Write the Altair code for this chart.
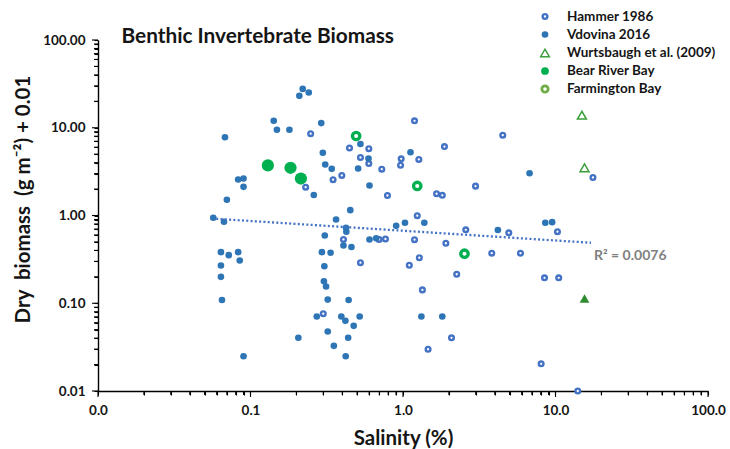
import altair as alt
import pandas as pd

# ---- data: salinity (%) vs dry biomass + 0.01 (g m-2) ----
hammer_salinity = [0.248, 0.348, 0.397, 0.230, 0.407, 0.446, 0.597, 0.526, 0.597, 1.19,
                   0.973, 0.964, 1.27, 1.87, 4.51, 0.726, 0.791, 1.66, 1.81, 2.99,
                   17.6, 1.24, 2.58, 4.94, 10.3, 0.697, 0.767, 1.19, 1.91, 3.82,
                   5.89, 0.526, 1.10, 1.28, 2.25, 8.47, 10.5, 1.34, 2.08, 1.46,
                   8.05, 14.0, 0.300]
hammer_biomass = [8.55, 2.56, 2.86, 2.10, 0.533, 5.88, 5.77, 4.58, 3.91, 12.0,
                  4.43, 3.74, 4.35, 6.11, 8.22, 3.37, 1.69, 1.77, 1.70, 2.16,
                  2.71, 0.995, 0.687, 0.635, 0.654, 0.533, 0.540, 0.530, 0.483, 0.372,
                  0.372, 0.290, 0.271, 0.330, 0.214, 0.195, 0.195, 0.142, 0.0404, 0.0299,
                  0.0204, 0.010, 0.0759]

vdovina_salinity = [0.220, 0.241, 0.209, 0.142, 0.149, 0.180, 0.291, 0.068, 0.298, 0.309,
                    0.341, 0.083, 0.090, 0.090, 0.260, 0.070, 0.057, 0.067, 0.364, 0.451,
                    0.307, 0.423, 0.425, 0.407, 0.459, 0.064, 0.072, 0.083, 0.085, 0.064,
                    0.064, 0.065, 0.294, 0.335, 0.305, 0.303, 0.313, 0.321, 0.440, 0.272,
                    0.394, 0.419, 0.520, 0.475, 0.321, 0.206, 0.352, 0.437, 0.090, 0.421,
                    0.526, 1.12, 0.594, 0.508, 0.603, 6.76, 0.902, 1.03, 1.38, 4.19,
                    8.57, 9.51, 0.603, 0.667, 1.32, 1.81]
vdovina_biomass = [27.7, 25.2, 23.1, 12.0, 9.48, 9.48, 11.3, 7.80, 5.19, 3.81,
                   3.40, 2.57, 2.64, 2.12, 1.71, 1.51, 0.942, 0.848, 0.900, 1.15,
                   0.592, 0.724, 0.652, 0.455, 0.438, 0.382, 0.353, 0.382, 0.307, 0.269,
                   0.200, 0.109, 0.382, 0.376, 0.264, 0.178, 0.155, 0.110, 0.109, 0.0706,
                   0.0706, 0.0631, 0.0706, 0.0553, 0.0476, 0.0404, 0.0327, 0.0404, 0.0249, 0.0249,
                   6.53, 5.26, 4.46, 3.43, 2.20, 3.03, 0.763, 0.826, 0.826, 0.684,
                   0.826, 0.839, 0.533, 0.551, 0.0706, 0.0706]

wurts_salinity = [14.9, 15.5]
wurts_biomass = [13.9, 3.50]
wurts_solid_salinity = [15.5]
wurts_solid_biomass = [0.113]

bear_salinity = [0.130, 0.183, 0.214]
bear_biomass = [3.72, 3.50, 2.64]

farm_salinity = [0.493, 1.24, 2.53]
farm_biomass = [8.05, 2.17, 0.367]

# power trendline through the Hammer + Vdovina points
trend_salinity = [0.0596, 17.1]
trend_biomass = [0.917, 0.489]
trend_label = "R\u00b2 = 0.0076"

legend_labels = ["Hammer 1986", "Vdovina 2016", "Wurtsbaugh et al. (2009)",
                 "Bear River Bay", "Farmington Bay"]

major_ticks = [0.01, 0.1, 1, 10, 100]
minor_ticks = sorted(round(m * k, 6) for m in major_ticks[:-1] for k in range(2, 10))
tick_values = sorted(major_ticks + minor_ticks)

# ---- styling ----
HAMMER = "#4472C4"
VDOVINA = "#2E75B6"
WURTS = "#3A9E3A"
WURTS_SOLID = "#2E8B2E"
BEAR = "#00B050"
FARM = "#00B050"
FARM_KEY = "#70AD47"
FONT = "Lato"
INK = "#151515"
NBSP = "\u00a0"

W, H = 610, 351

is_major = "abs(log(datum.value) / LN10 - round(log(datum.value) / LN10)) < 0.001"

x_axis = alt.Axis(
    values=tick_values,
    labelExpr=f"{is_major} ? format(datum.value, '.1f') : ''",
    grid=False, labelOverlap=False, labelFlush=False,
    domainColor="#000000", domainWidth=1.4,
    ticks=True, tickColor="#000000", tickWidth=1.1, tickSize=4, tickOpacity=1,
    labelFont=FONT, labelFontWeight="bold", labelFontSize=13.5, labelColor=INK,
    labelPadding=8,
    title="Salinity (%)", titleFont=FONT, titleFontSize=20.5, titleFontWeight="bold",
    titleColor=INK, titleX=W / 2, titleY=53, titleAlign="center",
    titleBaseline="alphabetic", titleAnchor="middle",
)

y_axis = alt.Axis(
    values=tick_values,
    labelExpr=f"{is_major} ? format(datum.value, '.2f') : ''",
    grid=False, labelOverlap=False, labelFlush=False,
    domainColor="#000000", domainWidth=1.4,
    ticks=True, tickColor="#000000", tickWidth=1.1, tickSize=4, tickOpacity=1,
    labelFont=FONT, labelFontWeight="bold", labelFontSize=13.5, labelColor=INK,
    labelPadding=9,
    title=f"Dry{NBSP} biomass{NBSP} (g m\u207b\u00b2) + 0.01", titleFont=FONT,
    titleFontSize=20.5, titleFontWeight="bold", titleColor=INK, titleAngle=-90,
    titleX=-69, titleY=159, titleAlign="center", titleBaseline="alphabetic",
)

xs = alt.Scale(type="log", domain=[0.01, 100], nice=False)
ys = alt.Scale(type="log", domain=[0.01, 100], nice=False)


def frame(sal, bio):
    return pd.DataFrame({"salinity": sal, "biomass": bio})


def xy():
    return dict(
        x=alt.X("salinity:Q", scale=xs, axis=x_axis),
        y=alt.Y("biomass:Q", scale=ys, axis=y_axis),
    )


hammer = alt.Chart(frame(hammer_salinity, hammer_biomass)).mark_point(
    shape="circle", size=22, fill="white", stroke=HAMMER, strokeWidth=2.4, opacity=1
).encode(**xy())

vdovina = alt.Chart(frame(vdovina_salinity, vdovina_biomass)).mark_circle(
    size=44, color=VDOVINA, opacity=1
).encode(**xy())

trend = alt.Chart(frame(trend_salinity, trend_biomass)).mark_line(
    color=HAMMER, strokeWidth=2.3, strokeDash=[2, 2.3], strokeCap="butt"
).encode(**xy())

wurts = alt.Chart(frame(wurts_salinity, wurts_biomass)).mark_point(
    shape="triangle-up", size=80, fill="white", stroke=WURTS, strokeWidth=1.5, opacity=1
).encode(**xy())

wurts_solid = alt.Chart(frame(wurts_solid_salinity, wurts_solid_biomass)).mark_point(
    shape="triangle-up", size=95, filled=True, color=WURTS_SOLID, opacity=1
).encode(**xy())

bear = alt.Chart(frame(bear_salinity, bear_biomass)).mark_circle(
    size=150, color=BEAR, opacity=1
).encode(**xy())

farm = alt.Chart(frame(farm_salinity, farm_biomass)).mark_point(
    shape="circle", size=55, fill="white", stroke=FARM, strokeWidth=3.3, opacity=1
).encode(**xy())

# log tick marks along both axes (minor 2..9, longer at each decade)
def tick_rules(values, length):
    d = pd.DataFrame({"salinity": values, "biomass": values})
    rule = alt.Chart(d).mark_rule(color="#000000", strokeWidth=1.1)
    xt = rule.encode(
        x=alt.X("salinity:Q", scale=xs, axis=x_axis),
        y=alt.value(H), y2=alt.value(H + length),
    )
    yt = rule.encode(
        y=alt.Y("biomass:Q", scale=ys, axis=y_axis),
        x=alt.value(-length), x2=alt.value(0),
    )
    return [xt, yt]


ticks = tick_rules(minor_ticks, 4) + tick_rules(major_ticks, 6)

one = pd.DataFrame({"k": [0]})

r2 = alt.Chart(one).mark_text(
    align="left", baseline="middle", font=FONT, fontWeight="bold",
    fontSize=14, color="#7F7F7F"
).encode(x=alt.value(496), y=alt.value(216), text=alt.value(trend_label))

title = alt.Chart(one).mark_text(
    align="left", baseline="middle", font=FONT, fontWeight="bold",
    fontSize=20.8, color=INK
).encode(x=alt.value(23.5), y=alt.value(-3), text=alt.value("Benthic Invertebrate Biomass"))

# legend: symbol column and label column
key_x, text_x = 447, 469
row_y = [-23.5, -5.5, 13, 31, 49]
key_marks = [
    dict(mark="point", shape="circle", size=22, fill="white", stroke=HAMMER, strokeWidth=2.4),
    dict(mark="circle", size=44, color=VDOVINA),
    dict(mark="point", shape="triangle-up", size=75, fill="white", stroke=WURTS, strokeWidth=1.5),
    dict(mark="circle", size=60, color=BEAR),
    dict(mark="point", shape="circle", size=40, fill="white", stroke=FARM_KEY, strokeWidth=2.8),
]

legend_layers = []
for label, ry, style in zip(legend_labels, row_y, key_marks):
    style = dict(style)
    kind = style.pop("mark")
    base = alt.Chart(one)
    sym = (base.mark_point(opacity=1, **style) if kind == "point"
           else base.mark_circle(opacity=1, **style))
    legend_layers.append(sym.encode(x=alt.value(key_x), y=alt.value(ry)))
    legend_layers.append(
        base.mark_text(align="left", baseline="middle", font=FONT, fontWeight="bold",
                       fontSize=13.5, color=INK)
        .encode(x=alt.value(text_x), y=alt.value(ry), text=alt.value(label))
    )

chart = alt.layer(
    *ticks, hammer, vdovina, trend, wurts, wurts_solid, bear, farm, r2, title, *legend_layers
).properties(
    width=W, height=H,
    autosize=alt.AutoSizeParams(type="none"),
    padding={"left": 98, "top": 40, "right": 22, "bottom": 58},
    background="white",
).configure_view(strokeWidth=0)

chart.save("out.html", embed_options={"renderer": "svg", "actions": False})
